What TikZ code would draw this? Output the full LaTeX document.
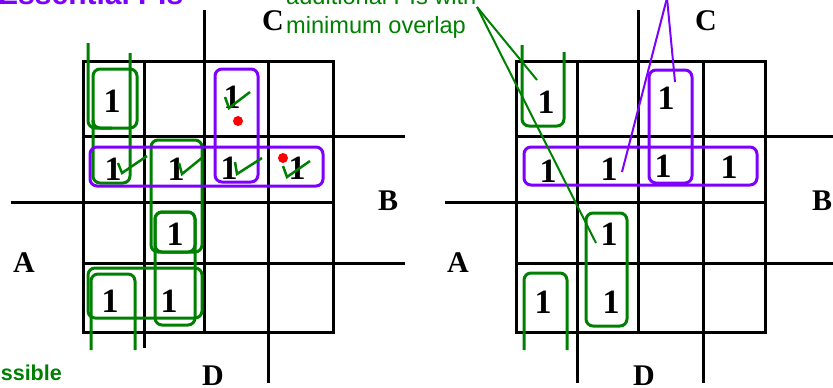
\documentclass[tikz,border=0pt]{standalone}
\usepackage{fontspec}
\setmainfont{Liberation Serif}
\setsansfont{Liberation Sans}
\definecolor{kgreen}{RGB}{0,128,0}
\definecolor{kpurple}{RGB}{125,0,255}
\begin{document}
\begin{tikzpicture}[x=1pt,y=-1pt,
  grid/.style={line width=3pt, black},
  one/.style={anchor=base, inner sep=0pt, font=\fontsize{34}{34}\selectfont\bfseries},
  lbl/.style={anchor=base west, inner sep=0pt, font=\fontsize{30}{30}\selectfont\bfseries},
  gloop/.style={draw=kgreen, line width=3pt, rounded corners=7pt},
  ploop/.style={draw=kpurple, line width=3pt, rounded corners=7pt},
  tick/.style={draw=kgreen, line width=2.5pt},
  rdot/.style={fill=red, circle, inner sep=0pt, minimum size=10pt},
  gtext/.style={anchor=base west, inner sep=0pt, text=kgreen, font=\sffamily\fontsize{23.6}{28}\selectfont},
  leadg/.style={draw=kgreen, line width=2pt},
  leadp/.style={draw=kpurple, line width=2pt}]
\useasboundingbox (0,0) rectangle (833,388);
\clip (0,0) rectangle (833,388);
% ---------- left map grid
\draw[grid] (83,61) rectangle (333,332);
\draw[grid] (144,61) -- (144,348);
\draw[grid] (204,10) -- (204,332);
\draw[grid] (268,61) -- (268,383);
\draw[grid] (83,136) -- (405,136);
\draw[grid] (11,202) -- (333,202);
\draw[grid] (83,263) -- (405,263);
% ---------- right map grid
\draw[grid] (516,61) rectangle (765,332);
\draw[grid] (577,61) -- (577,383);
\draw[grid] (638,10) -- (638,332);
\draw[grid] (703,61) -- (703,383);
\draw[grid] (516,136) -- (833,136);
\draw[grid] (445,202) -- (765,202);
\draw[grid] (516,263) -- (833,263);
% ---------- labels
\node[lbl] (lC) at (262,30) {C};
\node[lbl] (lB) at (378,210) {B};
\node[lbl] (lA) at (13,272) {A};
\node[lbl] (lD) at (202,385) {D};
\node[lbl] (rC) at (695,30) {C};
\node[lbl] (rB) at (812,210) {B};
\node[lbl] (rA) at (447,272) {A};
\node[lbl] (rD) at (633,385) {D};
% ---------- texts
\node[anchor=base west, inner sep=0pt, text=kpurple, font=\sffamily\bfseries\fontsize{30}{30}\selectfont] (ess) at (-2,5) {Essential PIs};
\node[gtext] (add1) at (286,5) {additional PIs with};
\node[gtext] (add2) at (286,33) {minimum overlap};
\node[anchor=base east, inner sep=0pt, text=kgreen, font=\sffamily\bfseries\fontsize{21.5}{21.5}\selectfont] (poss) at (62,380) {ssible};
% ---------- left loops
\draw[gloop] (93,69) rectangle (137,128);
\draw[gloop] (88,43) -- (88,128) -- (112,128);
\draw[gloop] (130,53) -- (130,183) -- (93,183) -- (93,120);
\draw[gloop] (151,140) rectangle (202,252);
\draw[gloop] (155,212) rectangle (195,252);
\draw[gloop] (155,212) rectangle (195,325);
\draw[gloop] (88,268) rectangle (202,318);
\draw[gloop] (91,350) -- (91,274) -- (135,274) -- (135,350);
\draw[ploop] (90,147) rectangle (323,186);
\draw[ploop] (215,69) rectangle (258,182);
% ---------- right loops
\draw[gloop] (522,45) -- (522,126) -- (564,126) -- (564,52);
\draw[gloop] (524,350) -- (524,273) -- (567,273) -- (567,350);
\draw[gloop] (586,213) rectangle (627,326);
\draw[ploop] (524,147) rectangle (757,185);
\draw[ploop] (649,70) rectangle (692,183);
% ---------- ones, left map
\node[one] (L00) at (112,112) {1};
\node[one] (L02) at (232,108) {1};
\node[one] (L10) at (113,180) {1};
\node[one] (L11) at (176,180) {1};
\node[one] (L12) at (229,179) {1};
\node[one] (L13) at (297,179) {1};
\node[one] (L21) at (175,245) {1};
\node[one] (L30) at (110,312) {1};
\node[one] (L31) at (169,312) {1};
% ---------- ones, right map
\node[one] (R00) at (546,113) {1};
\node[one] (R02) at (666,109) {1};
\node[one] (R10) at (548,182) {1};
\node[one] (R11) at (609,180) {1};
\node[one] (R12) at (663,177) {1};
\node[one] (R13) at (729,178) {1};
\node[one] (R21) at (609,245) {1};
\node[one] (R30) at (543,313) {1};
\node[one] (R31) at (611,313) {1};
% ---------- check marks
\draw[tick] (225,97) -- (229,108) -- (250,92);
\draw[tick] (118,163) -- (122,173) -- (147,156);
\draw[tick] (179,163) -- (182,174) -- (203,157);
\draw[tick] (235,162) -- (237,174) -- (262,158);
\draw[tick] (283,166) -- (287,177) -- (310,161);
% ---------- red dots
\node[rdot] (d1) at (238,121) {};
\node[rdot] (d2) at (283,158) {};
% ---------- leader lines
\coordinate (gsrc) at (477,7);
\coordinate (gend1) at (537,80);
\coordinate (gend2) at (596,243);
\draw[leadg] (gsrc) -- (gend1);
\draw[leadg] (gsrc) -- (gend2);
\coordinate (psrc) at (667,-2);
\coordinate (pend1) at (675,82);
\coordinate (pend2) at (622,172);
\draw[leadp] (psrc) -- (pend1);
\draw[leadp] (psrc) -- (pend2);
\end{tikzpicture}
\end{document}
